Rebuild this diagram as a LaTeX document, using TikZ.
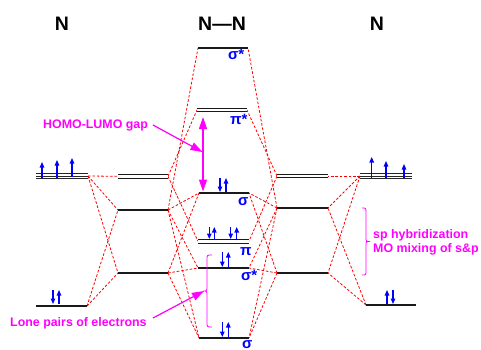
\documentclass[tikz,border=0pt]{standalone}
\usepackage{fontspec}
\setmainfont{Liberation Sans}
\usetikzlibrary{arrows.meta}
\definecolor{mag}{RGB}{255,0,255}
\definecolor{bl}{RGB}{0,0,255}
\newcommand\eup[3]{\draw[elec] (#1,#2) -- (#1,#3);}
\begin{document}
\begin{tikzpicture}[x=1pt,y=-1pt,
  lvl/.style={line width=1.4pt,black!90},
  dlvl/.style={line width=1.2pt,black!90,double=white,double distance=2.4pt},
  conn/.style={red,dash pattern=on 2.6pt off 1.8pt,line width=0.8pt},
  elec/.style={bl,line width=1.1pt,-{Triangle[length=5.5pt,width=4.5pt]}},
  mlab/.style={text=bl,font=\fontsize{15}{15}\selectfont\bfseries,inner sep=0,anchor=base west},
  ttl/.style={font=\fontsize{19.5}{20}\selectfont\bfseries,inner sep=0,anchor=base},
  note/.style={text=mag,font=\fontsize{12.4}{13}\selectfont\bfseries,inner sep=0,anchor=base west},
  marr/.style={mag,line width=1.2pt,-{Triangle[length=12pt,width=8pt]}},
  mbrace/.style={mag,line width=0.8pt}]
\useasboundingbox (0,0) rectangle (481,350);
% titles
\node[ttl] (tl) at (62,31) {N};
\node[ttl] (tm) at (222,31) {N---N};
\node[ttl] (tr) at (377,31) {N};
% level end points
\coordinate (L2pa) at (36,176);   \coordinate (L2pb) at (88,176);
\coordinate (L2sa) at (36,306);   \coordinate (L2sb) at (87,306);
\coordinate (LHta) at (118,176.3); \coordinate (LHtb) at (168,176.3);
\coordinate (LHma) at (118,210);  \coordinate (LHmb) at (168,210);
\coordinate (LHla) at (118,273);  \coordinate (LHlb) at (168,273);
\coordinate (Ms1a) at (198,48);   \coordinate (Ms1b) at (248,48);
\coordinate (Mp2a) at (197,110);  \coordinate (Mp2b) at (247,110);
\coordinate (Ms2a) at (199,193);  \coordinate (Ms2b) at (249,193);
\coordinate (Mp1a) at (198,241.3); \coordinate (Mp1b) at (249,241.3);
\coordinate (Ms3a) at (198,268);  \coordinate (Ms3b) at (249,268);
\coordinate (Ms4a) at (199,338);  \coordinate (Ms4b) at (249,338);
\coordinate (RHta) at (277,176);  \coordinate (RHtb) at (328,176);
\coordinate (RHma) at (277,208);  \coordinate (RHmb) at (328,208);
\coordinate (RHla) at (277,273);  \coordinate (RHlb) at (328,273);
\coordinate (R2pa) at (360,176);  \coordinate (R2pb) at (412,176);
\coordinate (R2sa) at (366,305);  \coordinate (R2sb) at (416,305);
% connectors left
\draw[conn] (L2pb) -- (LHta);
\draw[conn] (L2pb) -- (LHma);
\draw[conn] (L2pb) -- (LHla);
\draw[conn] (L2sb) -- (LHma);
\draw[conn] (L2sb) -- (LHla);
\draw[conn] (LHtb) -- (Mp2a);
\draw[conn] (LHtb) -- (Mp1a);
\draw[conn] (LHmb) -- (Ms1a);
\draw[conn] (LHmb) -- (Ms2a);
\draw[conn] (LHmb) -- (Ms3a);
\draw[conn] (LHmb) -- (Ms4a);
\draw[conn] (LHlb) -- (Ms2a);
\draw[conn] (LHlb) -- (Ms3a);
\draw[conn] (LHlb) -- (Ms4a);
% connectors right
\draw[conn] (R2pa) -- (RHtb);
\draw[conn] (R2pa) -- (RHmb);
\draw[conn] (R2pa) -- (RHlb);
\draw[conn] (R2sa) -- (RHmb);
\draw[conn] (R2sa) -- (RHlb);
\draw[conn] (RHta) -- (Mp2b);
\draw[conn] (RHta) -- (Mp1b);
\draw[conn] (RHma) -- (Ms1b);
\draw[conn] (RHma) -- (Ms2b);
\draw[conn] (RHma) -- (Ms3b);
\draw[conn] (RHma) -- (Ms4b);
\draw[conn] (RHla) -- (Ms2b);
\draw[conn] (RHla) -- (Ms3b);
\draw[conn] (RHla) -- (Ms4b);
% levels
\foreach \d in {-2.7,0,2.7} {
  \draw[line width=1pt,black!85] ([yshift=\d pt]L2pa) -- ([yshift=\d pt]L2pb);
  \draw[line width=1pt,black!85] ([yshift=\d pt]R2pa) -- ([yshift=\d pt]R2pb);
}
\draw[lvl] (L2sa) -- (L2sb);
\draw[lvl] (R2sa) -- (R2sb);
\draw[dlvl] (LHta) -- (LHtb);
\draw[lvl] (LHma) -- (LHmb);
\draw[lvl] (LHla) -- (LHlb);
\draw[dlvl] (RHta) -- (RHtb);
\draw[lvl] (RHma) -- (RHmb);
\draw[lvl] (RHla) -- (RHlb);
\draw[lvl] (Ms1a) -- (Ms1b);
\draw[dlvl] (Mp2a) -- (Mp2b);
\draw[lvl] (Ms2a) -- (Ms2b);
\draw[dlvl] (Mp1a) -- (Mp1b);
\draw[lvl] (Ms3a) -- (Ms3b);
\draw[lvl] (Ms4a) -- (Ms4b);
% MO labels
\node[mlab] (lb1) at (228,60) {σ*};
\node[mlab] (lb2) at (230,124) {π*};
\node[mlab] (lb3) at (238,205) {σ};
\node[mlab] (lb4) at (240,255.5) {π};
\node[mlab] (lb5) at (241,280) {σ*};
\node[mlab] (lb6) at (242,348.3) {σ};
% electrons
\eup{42}{178}{162} \eup{57}{178}{160} \eup{72}{177}{158}
\eup{53}{290}{304} \eup{59}{304}{290}
\eup{371.7}{178}{157} \eup{386}{178}{161} \eup{404}{178}{164}
\eup{387}{304}{290} \eup{393}{290}{304}
\eup{220}{178}{192} \eup{226}{192}{178}
\eup{209.3}{227}{239} \eup{214.3}{239}{227} \eup{230.7}{227}{239} \eup{236.7}{239}{227}
\eup{222.3}{252}{267} \eup{228.3}{267}{252}
\eup{222.3}{322}{337} \eup{228.3}{337}{322}
% annotations
\node[note] (hl) at (43,128.3) {HOMO-LUMO gap};
\coordinate (hlA) at (153,125);
\coordinate (hlB) at (202.5,152);
\draw[marr] (hlA) -- (hlB);
\coordinate (gapT) at (203,117);
\coordinate (gapB) at (203,191.5);
\draw[mag,line width=1.2pt,{Triangle[length=12pt,width=8pt]}-{Triangle[length=12pt,width=8pt]}] (gapT) -- (gapB);
\node[note] (lp) at (10,326.7) {Lone pairs of electrons};
\coordinate (lpA) at (153,318);
\coordinate (lpB) at (204,291);
\draw[marr] (lpA) -- (lpB);
\draw[mbrace] (212,255) .. controls (207,255) .. (207,260) -- (207,286) .. controls (207,291) .. (203,291)
  .. controls (207,291) .. (207,296) -- (207,322) .. controls (207,327) .. (212,327);
\draw[mbrace] (362,208) .. controls (366,208) .. (366,213) -- (366,237) .. controls (366,241.5) .. (370,241.5)
  .. controls (366,241.5) .. (366,246) -- (366,270) .. controls (366,275) .. (362,275);
\node[note] (sp1) at (373,238) {sp hybridization};
\node[note] (sp2) at (373,252.5) {MO mixing of s\&p};
\end{tikzpicture}
\end{document}
